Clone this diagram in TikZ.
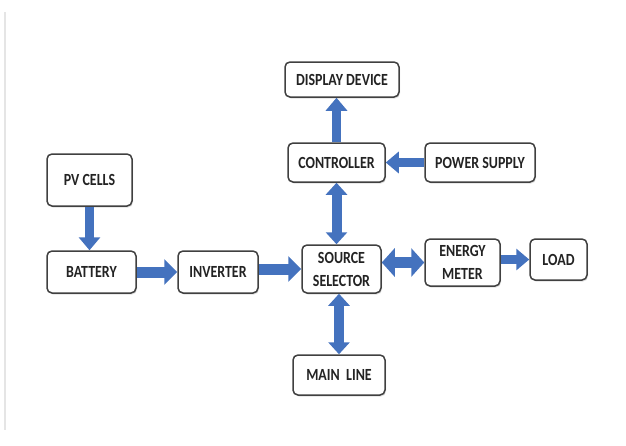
\documentclass[tikz,border=0pt]{standalone}
\usepackage{fontspec}
\setmainfont[FakeStretch=0.82]{Carlito}
\usetikzlibrary{arrows.meta,shadows}
\definecolor{flowblue}{RGB}{68,114,190}
\definecolor{boxgray}{RGB}{64,64,64}
\definecolor{textgray}{RGB}{35,35,35}
\tikzset{
  blk/.style={draw=boxgray, line width=1.5pt, rounded corners=5pt, fill=white,
    drop shadow={shadow xshift=1pt, shadow yshift=-1.5pt, opacity=0.25},
    text=textgray, font=\bfseries\fontsize{17}{23}\selectfont, align=center, inner sep=0pt},
  flow/.style={draw=flowblue, line width=11pt, -{Triangle[width=25pt,length=13pt]}},
  bflow/.style={draw=flowblue, line width=10pt, {Triangle[width=21pt,length=12pt]}-{Triangle[width=21pt,length=12pt]}},
  tflow/.style={draw=flowblue, line width=9pt, -{Triangle[width=21pt,length=13pt]}}
}
\begin{document}
\begin{tikzpicture}[x=1pt,y=-1pt]
        \useasboundingbox (0,0) rectangle (626,445);
        \draw[gray!20, line width=2pt] (5,12) -- (5,430);

        \node (disp) at (342, 79.5) [blk, minimum width=114pt, minimum height=35pt] {DISPLAY DEVICE};
        \node (ctrl) at (336.5, 162.5) [blk, minimum width=97pt, minimum height=39pt] {CONTROLLER};
        \node (psup) at (480, 162.5) [blk, minimum width=110pt, minimum height=39pt] {POWER SUPPLY};
        \node (pv) at (89.5, 180) [blk, minimum width=85pt, minimum height=52pt] {PV CELLS};
        \node (batt) at (91.5, 272) [blk, minimum width=89pt, minimum height=42pt] {BATTERY};
        \node (inv) at (218, 272) [blk, minimum width=80pt, minimum height=42pt] {INVERTER};
        \node (src) at (341.5, 269) [blk, minimum width=79pt, minimum height=48pt] {SOURCE\\SELECTOR};
        \node (meter) at (462.5, 262.5) [blk, minimum width=75pt, minimum height=47pt] {ENERGY\\METER};
        \node (load) at (558.5, 259.5) [blk, minimum width=57pt, minimum height=41pt] {LOAD};
        \node (main) at (339, 375) [blk, minimum width=92pt, minimum height=40pt] {MAIN\ \ LINE};

        \draw[tflow] (ctrl.north) -- (ctrl.north |- disp.south);
        \draw[tflow] (psup.west) -- (psup.west -| ctrl.east);
        \draw[bflow] (ctrl.south) -- (ctrl.south |- src.north);
        \draw[bflow] (main.north) -- (main.north |- src.south);
        \draw[tflow] (pv.south) -- (pv.south |- batt.north);
        \draw[flow] (batt.east) -- (inv.west);
        \draw[flow] (src.west -| inv.east) -- (src.west);
        \draw[flow, {Triangle[width=28pt,length=13pt]}-{Triangle[width=28pt,length=13pt]}] (meter.west -| src.east) -- (meter.west);
        \draw[tflow] (load.west -| meter.east) -- (load.west);
\end{tikzpicture}
\end{document}
